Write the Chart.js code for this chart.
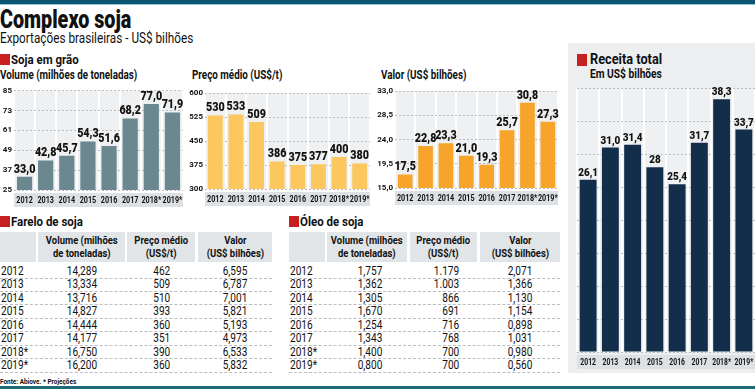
<!DOCTYPE html>
<html><head><meta charset="utf-8">
<script src="https://cdn.jsdelivr.net/npm/chart.js@4.4.1/dist/chart.umd.min.js"></script>
<style>
html,body{margin:0;padding:0;background:#fff;}
body{width:755px;height:390px;position:relative;overflow:hidden;font-family:"Roboto",sans-serif;color:#111;}
.abs{position:absolute;white-space:nowrap;}
.cx{display:inline-block;transform-origin:0 50%;}
.topbar{left:0;top:0;width:755px;height:4px;background:#0b5474;border-bottom:1px solid #8cc8d8;}
.botbar{left:0;top:386px;width:755px;height:3px;background:#1b6b78;}
.sq{position:absolute;width:10px;height:11px;background:#c62020;}
canvas{position:absolute;}
.panel{left:568px;top:43px;width:187px;height:330px;background:#eceef0;}
.hd{position:absolute;background:#e2e5e7;font-weight:bold;font-size:11px;line-height:13px;text-align:center;height:30px;display:flex;align-items:center;justify-content:center;white-space:nowrap;}
.hd span{display:inline-block;transform:scaleX(0.86);white-space:nowrap;}
.row{position:absolute;height:0;border-top:1px dashed #b9bdc0;}
.cell{position:absolute;font-size:12px;line-height:14px;height:14px;white-space:nowrap;}
.cell span{display:inline-block;transform:scaleX(0.84);}
.cell.l span{transform-origin:0 50%;}
.cell.r span{transform-origin:100% 50%;}
</style></head>
<body>
<div class="abs topbar"></div>
<div class="abs" style="left:0;top:5px;font-size:25px;font-weight:900;"><span class="cx" style="transform:scaleX(0.79);">Complexo soja</span></div>
<div class="abs" style="left:0;top:30px;font-size:14px;"><span class="cx" style="transform:scaleX(0.84);">Exportações brasileiras - US$ bilhões</span></div>
<div class="sq" style="left:0;top:54px;"></div>
<div class="abs" style="left:11px;top:51px;font-size:13.5px;font-weight:bold;"><span class="cx" style="transform:scaleX(0.85);">Soja em grão</span></div>
<div class="abs" style="left:0;top:68px;font-size:12px;font-weight:bold;"><span class="cx" style="transform:scaleX(0.82);">Volume (milhões de toneladas)</span></div>
<div class="abs" style="left:192px;top:68px;font-size:12px;font-weight:bold;"><span class="cx" style="transform:scaleX(0.82);">Preço médio (US$/t)</span></div>
<div class="abs" style="left:381px;top:68px;font-size:12px;font-weight:bold;"><span class="cx" style="transform:scaleX(0.82);">Valor (US$ bilhões)</span></div>
<div class="abs panel"></div>
<div class="sq" style="left:577px;top:54px;height:12px;"></div>
<div class="abs" style="left:590px;top:50px;font-size:15px;font-weight:bold;"><span class="cx" style="transform:scaleX(0.85);">Receita total</span></div>
<div class="abs" style="left:590px;top:67px;font-size:12px;font-weight:bold;"><span class="cx" style="transform:scaleX(0.85);">Em US$ bilhões</span></div>
<canvas id="c1" width="186" height="128" style="left:0;top:84px;"></canvas>
<canvas id="c2" width="186" height="128" style="left:186px;top:84px;"></canvas>
<canvas id="c3" width="190" height="128" style="left:372px;top:84px;"></canvas>
<canvas id="c4" width="187" height="292" style="left:568px;top:80px;"></canvas>
<div class="sq" style="left:0;top:216px;"></div>
<div class="abs" style="left:11px;top:213px;font-size:13.5px;font-weight:bold;"><span class="cx" style="transform:scaleX(0.85);">Farelo de soja</span></div>
<div class="sq" style="left:289px;top:216px;"></div>
<div class="abs" style="left:300px;top:213px;font-size:13.5px;font-weight:bold;"><span class="cx" style="transform:scaleX(0.85);">Óleo de soja</span></div>
<div id="t1"></div>
<div id="t2"></div>
<div class="abs" style="left:0;top:377px;font-size:8px;font-weight:bold;"><span class="cx" style="transform:scaleX(0.8);">Fonte: Abiove. * Projeções</span></div>
<div class="abs botbar"></div>
<script>
// ---- data ----
const years = ["2012","2013","2014","2015","2016","2017","2018*","2019*"];
const sojaVolume = [33.0, 42.8, 45.7, 54.3, 51.6, 68.2, 77.0, 71.9];
const sojaPreco = [530, 533, 509, 386, 375, 377, 400, 380];
const sojaValor = [17.5, 22.8, 23.3, 21.0, 19.3, 25.7, 30.8, 27.3];
const receitaTotal = [26.1, 31.0, 31.4, 28, 25.4, 31.7, 38.3, 33.7];
const receitaLabels = ["26,1","31,0","31,4","28","25,4","31,7","38,3","33,7"];
const fareloVolume = [14.289, 13.334, 13.716, 14.827, 14.444, 14.177, 16.750, 16.200];
const fareloPreco = [462, 509, 510, 393, 360, 351, 390, 360];
const fareloValor = [6.595, 6.787, 7.001, 5.821, 5.193, 4.973, 6.533, 5.832];
const oleoVolume = [1.757, 1.362, 1.305, 1.670, 1.254, 1.343, 1.400, 0.800];
const oleoPreco = [1179, 1003, 866, 691, 716, 768, 700, 700];
const oleoValor = [2.071, 1.366, 1.130, 1.154, 0.898, 1.031, 0.980, 0.560];
const tableHeaders = ["Volume (milhões<br>de toneladas)","Preço médio<br>(US$/t)","Valor<br>(US$ bilhões)"];

function fmtDec(v, d){ return v.toFixed(d).replace('.', ','); }
function fmtInt(v){ return String(v).replace(/\B(?=(\d{3})+(?!\d))/g, '.'); }

function buildTable(id, cols, x0, hdr, rights, width){
  let h = '';
  h += '<div class="hd" style="left:'+(x0+hdr[0][0])+'px;top:232px;width:'+(hdr[0][1]-hdr[0][0])+'px;"></div>';
  for (let i=0;i<3;i++){
    const c = hdr[i+1];
    h += '<div class="hd" style="left:'+(x0+c[0])+'px;top:232px;width:'+(c[1]-c[0])+'px;"><span>'+tableHeaders[i]+'</span></div>';
  }
  for (let r=0;r<years.length;r++){
    const cy = 271 + 13.45*r;
    const top = cy - 7;
    h += '<div class="cell l" style="left:'+(x0+1)+'px;top:'+top+'px;"><span>'+years[r]+'</span></div>';
    const vals = [fmtDec(cols[0][r],3), fmtInt(cols[1][r]), fmtDec(cols[2][r],3)];
    for (let k=0;k<3;k++){
      h += '<div class="cell r" style="left:'+(x0+rights[k]-80)+'px;width:80px;text-align:right;top:'+top+'px;"><span>'+vals[k]+'</span></div>';
    }
    h += '<div class="row" style="left:'+x0+'px;width:'+width+'px;top:'+(cy+6.5)+'px;"></div>';
  }
  document.getElementById(id).innerHTML = h;
}
buildTable('t1', [fareloVolume, fareloPreco, fareloValor], 0, [[0,36],[38,125],[127,195],[198,272]], [97,170,247], 272);
buildTable('t2', [oleoVolume, oleoPreco, oleoValor], 289, [[0,36],[38,118],[121,188],[191,271]], [93,170,243], 271);

const FONT = '"Roboto",sans-serif';

const bgPlugin = {
  id:'bg',
  beforeDraw(chart, args, opts){
    const {ctx, chartArea:a} = chart;
    ctx.save();
    ctx.fillStyle = opts.area || '#eef0f1';
    ctx.fillRect(a.left, a.top, a.right-a.left, a.bottom-a.top);
    ctx.fillStyle = opts.band || '#dde1e3';
    ctx.fillRect(a.left, a.bottom+3, a.right-a.left, opts.bandH || 14);
    ctx.restore();
  }
};
function condText(ctx, txt, x, y, sx){
  ctx.save(); ctx.translate(x, y); ctx.scale(sx, 1); ctx.fillText(txt, 0, 0); ctx.restore();
}
const labelPlugin = {
  id:'vals',
  afterDatasetsDraw(chart, args, opts){
    const ctx = chart.ctx;
    const meta = chart.getDatasetMeta(0);
    const xs = chart.scales.x;
    const a = chart.chartArea;
    ctx.save();
    ctx.fillStyle = '#111';
    ctx.textAlign = 'center';
    ctx.font = '900 ' + (opts.size||12.5) + 'px ' + FONT;
    ctx.textBaseline = 'bottom';
    meta.data.forEach((bar, i) => condText(ctx, opts.labels[i], bar.x, bar.y - 1, 0.86));
    ctx.font = 'bold ' + (opts.xsize||9) + 'px ' + FONT;
    ctx.textBaseline = 'middle';
    years.forEach((y, i) => condText(ctx, y, xs.getPixelForValue(i), a.bottom + 3 + (opts.bandH||14)/2 + 0.5, 0.8));
    ctx.restore();
  }
};

function makeChart(id, data, color, min, max, step, labels, opts){
  return new Chart(document.getElementById(id), {
    type:'bar',
    data:{labels: years, datasets:[{data: data, backgroundColor: color, barPercentage: opts.bp || 0.72, categoryPercentage: 1}]},
    options:{
      responsive:false, animation:false,
      layout:{padding: opts.padding},
      plugins:{legend:{display:false}, tooltip:{enabled:false},
        bg:{bandH: opts.bandH || 14}, vals:{labels: labels, size: opts.size, xsize: opts.xsize, bandH: opts.bandH || 14}},
      scales:{
        x:{grid:{display:true, offset:true, color:'#ffffff', lineWidth:2, drawTicks:false},
           border:{display:false},
           ticks:{display:false}},
        y:{min:min, max:max,
           afterBuildTicks(ax){ const t=[]; for(let v=min; v<=max+1e-9; v+=step) t.push({value: v}); ax.ticks=t; },
           afterFit(ax){ ax.width = opts.yw; },
           grid:{color:'#b9bec2', lineWidth:1, drawTicks:false},
           border:{display:false, dash:[2,2]},
           ticks:{display: !opts.noY, color:'#111', font:{family:FONT, weight:'bold', size:8}, padding:2,
             callback:(v)=> opts.yfmt ? opts.yfmt(v) : String(v)}}
      }
    },
    plugins:[bgPlugin, labelPlugin]
  });
}

makeChart('c1', sojaVolume, '#6b8891', 25, 85, 12, sojaVolume.map(v=>fmtDec(v,1)),
  {yw:14, padding:{top:6, right:3, left:0, bottom:22}});
makeChart('c2', sojaPreco, '#fcc75e', 300, 600, 75, sojaPreco.map(v=>String(v)),
  {yw:19, padding:{top:9, right:2, left:0, bottom:23}});
makeChart('c3', sojaValor, '#f6a52a', 15, 33, 4.5, sojaValor.map(v=>fmtDec(v,1)),
  {yw:23, yfmt:v=>fmtDec(v,1), padding:{top:7, right:4, left:0, bottom:24}});
makeChart('c4', receitaTotal, '#132e4b', 0, 40, 5, receitaLabels,
  {noY:true, yw:0, bp:0.76, size:11.5, xsize:8.5, padding:{top:8, left:9, right:0, bottom:20}});
</script>
</body></html>
